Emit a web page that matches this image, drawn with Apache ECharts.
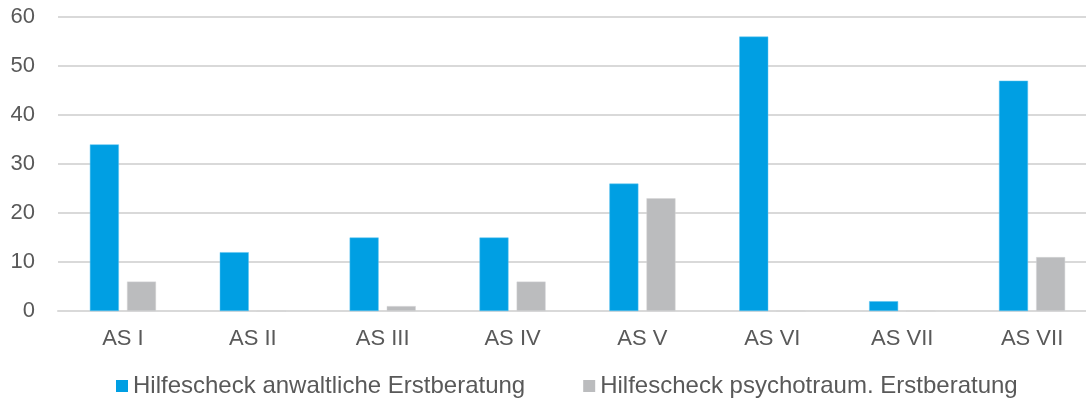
<!DOCTYPE html>
<html>
<head>
<meta charset="utf-8">
<script src="https://cdn.jsdelivr.net/npm/echarts@6/dist/echarts.min.js"></script>
<style>
  html, body { margin: 0; padding: 0; background: #fff; }
  #chart { width: 1086px; height: 405px; }
</style>
</head>
<body>
<div id="chart"></div>
<script>
const categories = ['AS I', 'AS II', 'AS III', 'AS IV', 'AS V', 'AS VI', 'AS VII', 'AS VII']
const anwaltlich = [34, 12, 15, 15, 26, 56, 2, 47]
const psychotraum = [6, 0, 1, 6, 23, 0, 0, 11]
const yTicks = [0, 10, 20, 30, 40, 50, 60]

const chart = echarts.init(document.getElementById('chart'))
const textColor = '#595959'
const fontFamily = '"Liberation Sans", Arial, sans-serif'

chart.setOption({
    animation: false,
    textStyle: { fontFamily },
    grid: {
        left: 58,
        right: -11,
        top: 17,
        bottom: 94,
        containLabel: false,
        outerBoundsMode: 'none'
    },
    legend: {
        bottom: 2,
        left: 111,
        itemGap: 58,
        itemWidth: 12,
        itemHeight: 12,
        icon: 'rect',
        itemStyle: { borderWidth: 0 },
        textStyle: { color: textColor, fontSize: 24, fontFamily },
        data: ['Hilfescheck anwaltliche Erstberatung', 'Hilfescheck psychotraum. Erstberatung']
    },
    xAxis: {
        type: 'category',
        data: categories,
        axisLine: { lineStyle: { color: '#d9d9d9', width: 2 } },
        axisTick: { show: false },
        axisLabel: { color: textColor, fontSize: 22, margin: 17, fontFamily, interval: 0 }
    },
    yAxis: {
        type: 'value',
        min: yTicks[0],
        max: yTicks[yTicks.length - 1],
        interval: 10,
        axisLine: { show: false },
        axisTick: { show: false },
        axisLabel: { color: textColor, fontSize: 22, margin: 23, fontFamily },
        splitLine: { lineStyle: { color: '#d9d9d9', width: 2 } }
    },
    series: [
        {
            name: 'Hilfescheck anwaltliche Erstberatung',
            type: 'bar',
            data: anwaltlich,
            barWidth: 29,
            barGap: '28%',
            itemStyle: { color: '#009fe3', borderColor: '#5cc4f0', borderWidth: 0.5 }
        },
        {
            name: 'Hilfescheck psychotraum. Erstberatung',
            type: 'bar',
            data: psychotraum,
            barWidth: 29,
            itemStyle: { color: '#bbbcbe', borderColor: '#d4d5d6', borderWidth: 0.5 }
        }
    ]
})
</script>
</body>
</html>
